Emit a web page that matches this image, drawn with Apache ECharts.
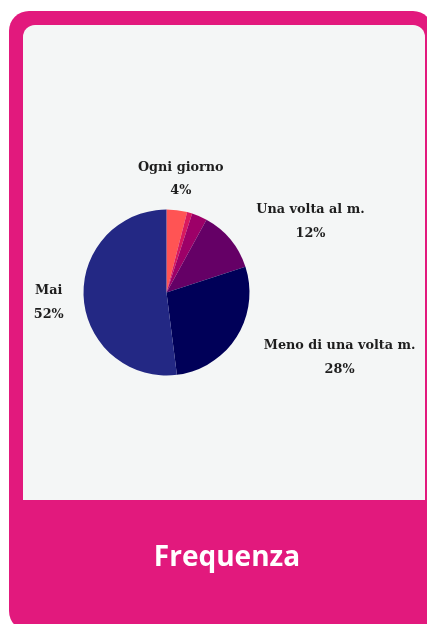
<!DOCTYPE html>
<html>
<head>
<meta charset="utf-8">
<script src="https://cdn.jsdelivr.net/npm/echarts@6/dist/echarts.min.js"></script>
<style>
  html, body { margin: 0; padding: 0; background: #ffffff; }
  #chart { width: 427px; height: 624px; }
</style>
</head>
<body>
<div id="chart"></div>
<script>
// Answers to "how often" – share of respondents, percent
const categories = ['Ogni giorno', 'Più volte a settimana', 'Una volta a settimana', 'Una volta al m.', 'Meno di una volta m.', 'Mai'];
const shares = [4, 1, 3, 12, 28, 52];
const showLabel = [true, false, false, true, true, true];
const sliceColors = ['#ff5454', '#d8195f', '#9d0068', '#650066', '#000058', '#232884'];
const cardTitle = 'Frequenza';

const PINK = '#e2197d';
const PANEL = '#f4f6f6';
const center = [166.5, 292.5];
const radius = 83;
const labelRadius = 114;
// small hand nudges [dx, dy] so the outer labels sit clear of each other
const labelNudge = [[0, 0], [0, 0], [0, 0], [2, 2], [1, 4], [11, 3]];

// mid-angle of each slice, measured clockwise from 12 o'clock
const total = shares.reduce((a, b) => a + b, 0);
const midAngles = [];
let acc = 0;
shares.forEach(v => { midAngles.push((acc + v / 2) / total * 2 * Math.PI); acc += v; });

const chart = echarts.init(document.getElementById('chart'), null, { renderer: 'canvas' });

chart.setOption({
  animation: false,
  graphic: [
    { type: 'rect', z: -10, shape: { x: 9, y: 11, width: 424, height: 620, r: 20 }, style: { fill: PINK } },
    { type: 'rect', z: -9, shape: { x: 23, y: 25, width: 402, height: 475, r: [12, 12, 0, 0] }, style: { fill: PANEL } },
    {
      type: 'text', z: 5, x: 227, y: 558,
      style: {
        text: cardTitle, fill: '#ffffff', align: 'center', verticalAlign: 'middle',
        font: 'bold 28px "Open Sans"'
      }
    }
  ],
  series: [{
    type: 'pie',
    center: center,
    radius: radius,
    startAngle: 90,
    clockwise: true,
    silent: true,
    itemStyle: { borderWidth: 0 },
    label: {
      show: true,
      position: 'outside',
      overflow: 'none',
      formatter: p => p.name + '\n' + p.value + '%',
      fontFamily: 'DejaVu Serif',
      fontWeight: 'bold',
      fontSize: 12.8,
      lineHeight: 23.5,
      color: '#1e1e1e',
      align: 'center'
    },
    labelLine: { show: false },
    labelLayout: params => {
      const i = params.dataIndex;
      const a = midAngles[i];
      const s = Math.sin(a), c = Math.cos(a);
      const w = params.labelRect.width;
      // anchor the near edge of the label block on the label circle, lines centred in the block
      const shift = Math.abs(s) < 0.3 ? 0 : (s > 0 ? w / 2 : -w / 2);
      return {
        x: center[0] + s * labelRadius + shift + labelNudge[i][0],
        y: center[1] - c * labelRadius + labelNudge[i][1],
        align: 'center',
        verticalAlign: 'middle'
      };
    },
    data: categories.map((name, i) => ({
      name: name,
      value: shares[i],
      itemStyle: { color: sliceColors[i] },
      label: { show: showLabel[i] }
    }))
  }]
});
</script>
</body>
</html>
